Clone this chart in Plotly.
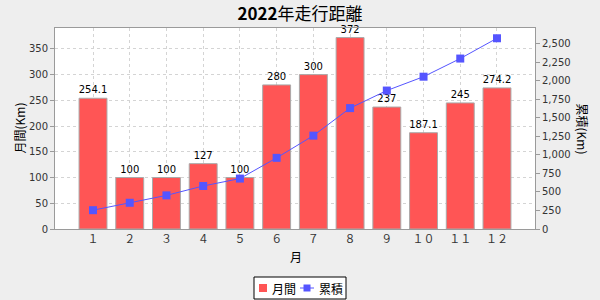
import plotly.graph_objects as go

months = ["１", "２", "３", "４", "５", "６", "７", "８", "９", "１０", "１１", "１２"]
monthly = [254.1, 100, 100, 127, 100, 280, 300, 372, 237, 187.1, 245, 274.2]
labels = ["254.1", "100", "100", "127", "100", "280", "300", "372", "237", "187.1", "245", "274.2"]
series_names = ["月間", "累積"]

cumulative = []
s = 0.0
for v in monthly:
    s += v
    cumulative.append(round(s, 1))

FONT = "DejaVu Sans, Noto Sans CJK JP, sans-serif"
JP = "Noto Sans CJK JP"
GRID = "#D4D4D4"
AXIS = "#9A9A9A"
RED = "#FF5555"
BLUE = "#5555FF"

# plot area in pixels
L, R, T, B = 55, 535, 28, 229
W, H = R - L, B - T


def px(x):
    return (x - L) / W


def py(y):
    return (B - y) / H


fig = go.Figure()
fig.add_trace(go.Bar(
    x=months, y=monthly, name=series_names[0], showlegend=False,
    marker=dict(color=RED, line=dict(color="#AAAAAA", width=1)),
    width=0.76,
    text=labels, textposition="outside", constraintext="none", cliponaxis=False,
    textfont=dict(size=10, color="#000000", family=FONT),
))
fig.add_trace(go.Scatter(
    x=months, y=cumulative, name=series_names[1], yaxis="y2", showlegend=False,
    mode="lines+markers",
    line=dict(color=BLUE, width=1),
    marker=dict(symbol="square", size=8, color=BLUE),
))

shapes = [
    # legend box
    dict(type="rect", xref="paper", yref="paper", x0=px(254), x1=px(346), y0=py(277), y1=py(299),
         line=dict(color="#000000", width=1), fillcolor="#FFFFFF", layer="above"),
    dict(type="rect", xref="paper", yref="paper", x0=px(259), x1=px(267), y0=py(284), y1=py(292),
         line=dict(width=0), fillcolor=RED, layer="above"),
    dict(type="line", xref="paper", yref="paper", x0=px(300), x1=px(314), y0=py(288), y1=py(288),
         line=dict(color=BLUE, width=1), layer="above"),
    dict(type="rect", xref="paper", yref="paper", x0=px(303.5), x1=px(310.5), y0=py(284.5), y1=py(291.5),
         line=dict(width=0), fillcolor=BLUE, layer="above"),
]

ann_font = dict(family=JP, size=12, color="#000000")
annotations = [
    dict(text="累積(Km)", textangle=90, xref="paper", yref="paper", x=px(582), y=0.5,
         xanchor="center", yanchor="middle", showarrow=False, font=ann_font),
    dict(text="月間(Km)", textangle=-90, xref="paper", yref="paper", x=px(19), y=0.5,
         xanchor="center", yanchor="middle", showarrow=False, font=ann_font),
    dict(text="月", xref="paper", yref="paper", x=px(296), y=py(256),
         xanchor="center", yanchor="middle", showarrow=False, font=ann_font),
    dict(text=series_names[0], xref="paper", yref="paper", x=px(270), y=py(288),
         xanchor="left", yanchor="middle", showarrow=False, font=ann_font),
    dict(text=series_names[1], xref="paper", yref="paper", x=px(317), y=py(288),
         xanchor="left", yanchor="middle", showarrow=False, font=ann_font),
]

fig.update_layout(
    width=600, height=300,
    margin=dict(l=L, r=600 - R, t=T, b=300 - B, autoexpand=False),
    paper_bgcolor="#EEEEEE", plot_bgcolor="#FFFFFF",
    font=dict(family=FONT, size=10, color="#333333"),
    title=dict(text="<b>2022</b>年走行距離", x=0.5, xanchor="center", y=1 - 14 / 300, yanchor="middle",
               font=dict(family=JP, size=17, color="#000000")),
    showlegend=False,
    xaxis=dict(type="category", range=[-1.035, 12.035], automargin=False,
               showgrid=True, gridcolor=GRID, griddash="3px,3px",
               showline=True, linecolor=AXIS, mirror=True, ticks="",
               tickfont=dict(family=JP, size=11, color="#333333")),
    yaxis=dict(range=[0, 390.6], dtick=50, showgrid=True, gridcolor=GRID, griddash="3px,3px",
               automargin=False,
               zeroline=False, showline=True, linecolor=AXIS, ticks="outside", ticklen=4, tickcolor=AXIS,
               tickfont=dict(size=10, color="#333333")),
    yaxis2=dict(overlaying="y", side="right", range=[0, 2715], dtick=250, tickformat=",d",
                automargin=False,
                showgrid=False, zeroline=False, showline=True, linecolor=AXIS,
                ticks="outside", ticklen=4, tickcolor=AXIS,
                tickfont=dict(size=10, color="#333333")),
    shapes=shapes,
    annotations=annotations,
)

fig.write_html("out.html")
